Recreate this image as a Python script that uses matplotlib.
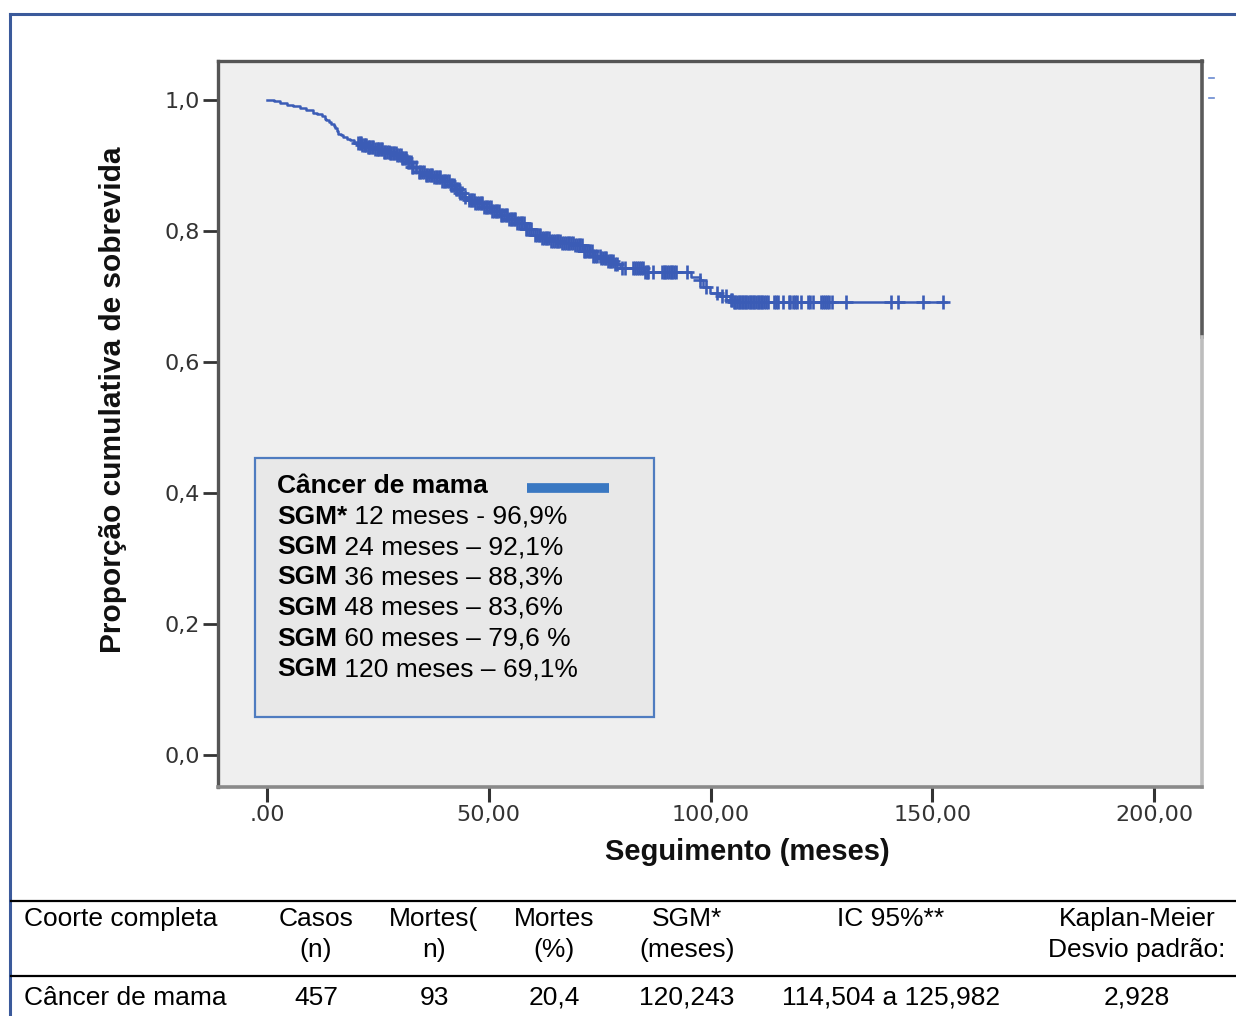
import numpy as np
import matplotlib
matplotlib.use('Agg')
import matplotlib.pyplot as plt
from matplotlib.lines import Line2D
from matplotlib.patches import Rectangle

# survival curve (step times in months, survival proportion)
times = [0, 1.5, 3.0, 4.4, 5.8, 7.4, 8.8, 10.4, 11.3, 12.3, 13.0, 13.4, 14.0, 14.5, 15.0,
         15.3, 15.7, 16.1, 16.6, 17.2, 18.0, 18.7, 19.5, 20.2, 21.3, 22.5, 24.3, 26.2,
         27.7, 29.2, 30.4, 31.5, 32.6, 33.7, 35.6, 37.5, 39.4, 41.3, 42.4, 43.5, 44.3,
         45.0, 46.9, 48.8, 50.6, 52.5, 54.4, 56.3, 58.1, 60.0, 61.9, 63.8, 66.5, 69.1,
         71.4, 73.6, 75.1, 76.6, 78.1, 79.6, 85.0, 95.7, 97.6, 98.4, 99.9, 102.2, 104.4,
         105.0]
surv = [1.0, 0.998, 0.996, 0.993, 0.991, 0.987, 0.984, 0.980, 0.978, 0.975, 0.971, 0.969,
        0.966, 0.964, 0.960, 0.957, 0.952, 0.948, 0.946, 0.943, 0.941, 0.939, 0.936, 0.934,
        0.931, 0.928, 0.925, 0.921, 0.919, 0.916, 0.911, 0.906, 0.898, 0.890, 0.886, 0.883,
        0.877, 0.870, 0.864, 0.858, 0.852, 0.847, 0.842, 0.837, 0.830, 0.824, 0.818, 0.812,
        0.803, 0.794, 0.789, 0.784, 0.781, 0.779, 0.770, 0.761, 0.758, 0.754, 0.750, 0.743,
        0.738, 0.730, 0.725, 0.715, 0.705, 0.700, 0.695, 0.692]
followup_end = 153

censor_times = [20.5, 20.9, 21.2, 21.5, 21.8, 22.1, 22.4, 22.7, 23.0, 23.3, 23.6, 24.0, 24.3,
                24.7, 25.0, 25.3, 25.6, 26.0, 26.3, 26.7, 27.0, 27.4, 27.7, 28.0, 28.3, 28.7,
                29.0, 29.4, 29.8, 30.1, 30.4, 30.7, 31.0, 31.4, 31.7, 32.0, 32.4, 32.7, 33.0,
                33.5, 34.2, 34.6, 35.0, 35.4, 35.8, 36.1, 36.5, 36.9, 37.2, 37.6, 38.0, 38.4,
                38.7, 39.1, 39.5, 39.8, 40.2, 40.6, 41.0, 41.4, 41.8, 42.1, 42.5, 42.9, 43.2,
                43.6, 44.0, 44.6, 45.5, 45.9, 46.3, 46.6, 47.0, 47.4, 47.8, 48.2, 48.5, 48.9,
                49.3, 49.6, 50.0, 50.4, 50.8, 51.2, 51.6, 51.9, 52.3, 52.7, 53.0, 53.4, 53.8,
                54.2, 54.5, 54.9, 55.3, 55.6, 56.0, 56.4, 56.8, 57.2, 57.6, 57.9, 58.3, 58.7,
                59.0, 59.6, 60.5, 60.9, 61.3, 61.6, 62.0, 62.4, 62.8, 63.1, 63.5, 64.0, 64.5,
                64.9, 65.3, 65.6, 66.0, 66.5, 67.0, 67.4, 67.8, 68.1, 68.5, 69.0, 69.5, 69.9,
                70.3, 70.6, 71.0, 71.4, 71.8, 72.1, 72.5, 72.9, 73.3, 73.6, 74.0, 74.5, 75.0,
                75.4, 75.8, 76.1, 76.5, 76.9, 77.3, 77.6, 78.0, 78.5, 79.0,
                80.0, 80.8, 82.6, 83.0, 83.4, 83.8, 84.3, 84.7, 85.2, 85.6, 86.0, 87.0, 89.0,
                89.4, 89.8, 90.2, 90.6, 91.0, 91.4, 91.8, 92.2, 94.8, 97.7, 99.0, 101.5,
                102.5, 103.5,
                104.5, 104.9, 105.3, 105.6, 106.0, 106.4, 106.7, 107.1, 107.4, 107.8, 108.1,
                108.5, 108.8, 109.2, 109.5, 109.9, 110.2, 110.6, 111.0, 111.4, 111.7, 112.1,
                112.4, 113.0, 114.2, 114.7, 115.2, 116.3, 117.6, 118.0, 118.5, 119.0, 119.4,
                120.3, 122.0, 122.5, 123.0, 125.0, 125.4, 125.8, 126.2, 126.6, 127.3, 130.5,
                140.6, 142.2, 147.9, 152.4]

x_ticks = [0, 50, 100, 150, 200]
x_tick_labels = ['.00', '50,00', '100,00', '150,00', '200,00']
y_ticks = [0.0, 0.2, 0.4, 0.6, 0.8, 1.0]
y_tick_labels = ['0,0', '0,2', '0,4', '0,6', '0,8', '1,0']

legend_title = 'Câncer de mama'
legend_bold = ['SGM*', 'SGM', 'SGM', 'SGM', 'SGM', 'SGM']
legend_rest = [' 12 meses - 96,9%', ' 24 meses – 92,1%', ' 36 meses – 88,3%',
               ' 48 meses – 83,6%', ' 60 meses – 79,6 %', ' 120 meses – 69,1%']

table_header1 = ['Casos', 'Mortes(', 'Mortes', 'SGM*', 'IC 95%**', 'Kaplan-Meier']
table_header2 = ['(n)', 'n)', '(%)', '(meses)', '', 'Desvio padrão:']
table_row = ['457', '93', '20,4', '120,243', '114,504 a 125,982', '2,928']
col_x = [316, 434, 554, 687, 891, 1137]

W, H = 1236, 1016
def fx(x):
    return x / W
def fy(y):
    return 1 - y / H

plt.rcParams['font.family'] = ['Liberation Sans', 'DejaVu Sans']
fig = plt.figure(figsize=(12.36, 10.16), dpi=100)
ax = fig.add_axes([fx(218), fy(787), fx(1202) - fx(218), fy(61) - fy(787)])
ax.set_facecolor('#efefef')

blue = '#3b5cb6'
t_plot = list(times) + [followup_end]
s_plot = list(surv) + [surv[-1]]
ax.step(t_plot, s_plot, where='post', color=blue, lw=1.8)
idx = np.searchsorted(times, censor_times, side='right') - 1
cs = np.array(surv)[idx]
ax.plot(censor_times, cs, ls='none', marker='+', ms=10.5, mew=1.9, color=blue)

ax.set_xlim(-11.05, 210.8)
ax.set_ylim(-0.049, 1.0595)
ax.set_xticks(x_ticks)
ax.set_xticklabels(x_tick_labels, family='DejaVu Sans', fontsize=16, color='#333333')
ax.set_yticks(y_ticks)
ax.set_yticklabels(y_tick_labels, family='DejaVu Sans', fontsize=16, color='#333333')
ax.tick_params(axis='x', length=11, width=2.2, color='#333333', pad=2)
ax.tick_params(axis='y', length=11, width=2.0, color='#333333', pad=2)

for side in ['left', 'top']:
    ax.spines[side].set_color('#555555')
    ax.spines[side].set_linewidth(2.4)
ax.spines['bottom'].set_color('#8a8a8a')
ax.spines['bottom'].set_linewidth(2.6)
ax.spines['right'].set_visible(False)
ax.plot([1, 1], [0.62, 1.0], transform=ax.transAxes, color='#5a5a5a', lw=2.6, clip_on=False)
ax.plot([1, 1], [0.0, 0.62], transform=ax.transAxes, color='#bdbdbd', lw=2.6, clip_on=False)

fig.text(fx(113), fy(400), 'Proporção cumulativa de sobrevida', rotation=90,
         ha='center', va='center', fontsize=21.5, fontweight='bold', color='#111111')
fig.text(fx(747), fy(852), 'Seguimento (meses)', ha='center', va='center',
         fontsize=21, fontweight='bold', color='#111111')

# legend box
fig.add_artist(Rectangle((fx(255), fy(717)), fx(654) - fx(255), fy(458) - fy(717),
                         transform=fig.transFigure, facecolor='#e8e8e8',
                         edgecolor='#4f7cc0', lw=1.6))
fig.text(fx(277), fy(493), legend_title, fontsize=19, fontweight='bold', va='baseline')
fig.add_artist(Line2D([fx(527), fx(609)], [fy(488), fy(488)], transform=fig.transFigure,
                      color='#3a78c2', lw=7, solid_capstyle='butt'))
renderer = fig.canvas.get_renderer()
for i in range(len(legend_bold)):
    yb = 523.5 + i * 30.5
    tb = fig.text(fx(277), fy(yb), legend_bold[i], fontsize=19, fontweight='bold',
                  va='baseline')
    bb = tb.get_window_extent(renderer)
    fig.text(bb.x1 / W, fy(yb), legend_rest[i], fontsize=19, va='baseline')

# small marks to the right of the plot
for yy in [78, 98]:
    fig.add_artist(Line2D([fx(1209), fx(1214)], [fy(yy), fy(yy)], transform=fig.transFigure,
                          color='#6a8ad0', lw=1.2))

# outer frame
frame = '#3b5a9b'
fig.add_artist(Line2D([fx(10), fx(1236)], [fy(14), fy(14)], transform=fig.transFigure,
                      color=frame, lw=2.2))
fig.add_artist(Line2D([fx(10), fx(10)], [fy(14), fy(1016)], transform=fig.transFigure,
                      color=frame, lw=2.2))

# table
for yy in [901, 976]:
    fig.add_artist(Line2D([fx(11), fx(1236)], [fy(yy), fy(yy)], transform=fig.transFigure,
                          color='black', lw=1.6))
fig.text(fx(24), fy(926), 'Coorte completa', fontsize=19, va='baseline')
fig.text(fx(24), fy(1005), 'Câncer de mama', fontsize=19, va='baseline')
for i in range(len(col_x)):
    fig.text(fx(col_x[i]), fy(926), table_header1[i], fontsize=19, ha='center', va='baseline')
    if table_header2[i]:
        fig.text(fx(col_x[i]), fy(957), table_header2[i], fontsize=19, ha='center',
                 va='baseline')
    fig.text(fx(col_x[i]), fy(1005), table_row[i], fontsize=19, ha='center', va='baseline')

plt.savefig('out.png', dpi=100)
